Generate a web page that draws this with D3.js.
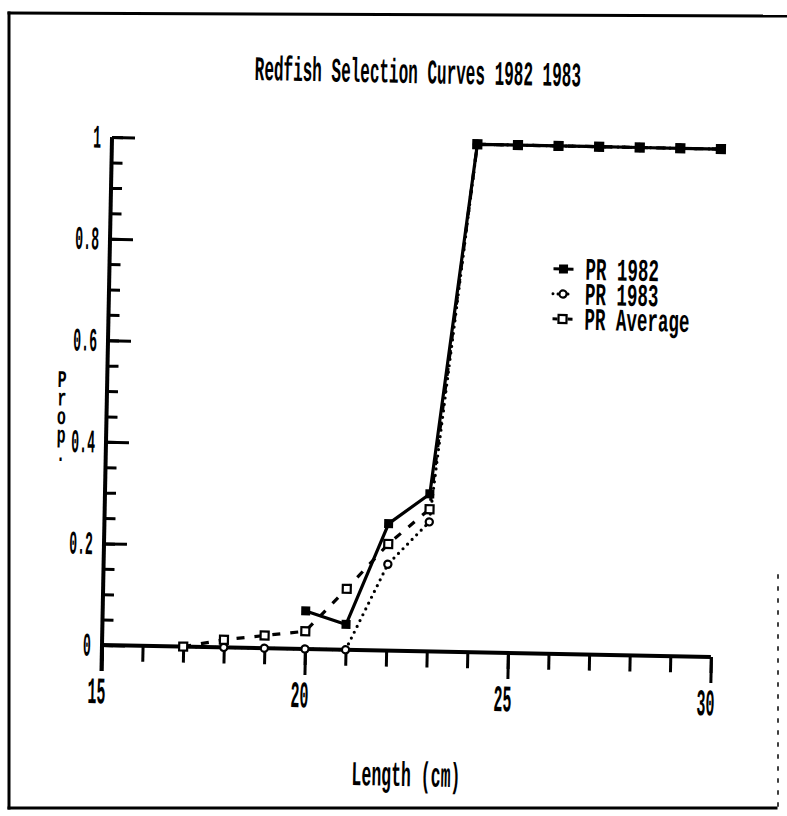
<!DOCTYPE html>
<html>
<head>
<meta charset="utf-8">
<script src="https://cdn.jsdelivr.net/npm/d3@7"></script>
<style>
  html, body { margin: 0; padding: 0; background: #fff; }
  svg { display: block; }
  text { font-family: "Liberation Mono", "DejaVu Sans Mono", monospace; fill: #000; }
</style>
</head>
<body>
<svg id="chart" width="787" height="816"></svg>
<script>
// Fish length classes (cm) and retained proportion for each selection curve
const lengths   = [17, 18, 19, 20, 21, 22, 23, 24, 25, 26, 27, 28, 29, 30];
const pr1982    = [null, null, null, 0.075, 0.05, 0.25, 0.31, 1, 1, 1, 1, 1, 1, 1];
const pr1983    = [0, 0, 0, 0, 0, 0.17, 0.255, 1, 1, 1, 1, 1, 1, 1];
const prAverage = [0, 0.015, 0.025, 0.035, 0.12, 0.21, 0.28, 1, 1, 1, 1, 1, 1, 1];

const seriesNames = ["PR 1982", "PR 1983", "PR Average"];
const xTickValues = [15, 20, 25, 30];
const yTickValues = [0, 0.2, 0.4, 0.6, 0.8, 1];
const yTickLabels = ["0", "0.2", "0.4", "0.6", "0.8", "1"];
const titleText = "Redfish Selection Curves 1982 1983";
const xTitle = "Length (cm)";
const yTitle = "Prop.";

const svg = d3.select("#chart");
const CAP = 0.659; // cap height of the mono face, in em

// Outer page frame
const frame = svg.append("g").attr("stroke", "#000").attr("fill", "none").attr("stroke-linecap", "square");
frame.append("line").attr("x1", 9).attr("y1", 13).attr("x2", 787).attr("y2", 16).attr("stroke-width", 3);
frame.append("line").attr("x1", 9).attr("y1", 13).attr("x2", 9).attr("y2", 808).attr("stroke-width", 3);
frame.append("line").attr("x1", 9).attr("y1", 808).attr("x2", 776).attr("y2", 808).attr("stroke-width", 3);
frame.append("line").attr("x1", 778).attr("y1", 575).attr("x2", 778).attr("y2", 808)
  .attr("stroke-width", 1.5).attr("stroke-dasharray", "3,9");

// Plot area, tilted slightly as printed on the page
const x = d3.scaleLinear().domain([15, 30]).range([102, 711]);
const y = d3.scaleLinear().domain([0, 1]).range([645, 137]);
const g = svg.append("g").attr("transform", `rotate(1.13, ${x(15)}, ${y(0)})`);

// Tall, condensed text helper
function tallText(parent, str, px, py, size, sy, anchor, weight, sx) {
  return parent.append("g")
    .attr("transform", `translate(${px},${py}) scale(${sx || 1},${sy})`)
    .append("text")
    .attr("text-anchor", anchor || "middle")
    .attr("font-size", size)
    .attr("font-weight", weight || "bold")
    .text(str);
}

// Title
tallText(g, titleText, (x(15) + x(30)) / 2, 77, 16, 2.15, "middle", "600");

// X axis: minor ticks every cm, major ticks every 5 cm
const xMinor = d3.axisBottom(x).tickValues(d3.range(15, 31)).tickSize(16).tickFormat("").tickSizeOuter(0);
const xMajor = d3.axisBottom(x).tickValues(xTickValues).tickSize(26).tickSizeOuter(0).tickFormat(d3.format("d"));
const gxMinor = g.append("g").attr("transform", `translate(0,${y(0)})`).call(xMinor);
const gxMajor = g.append("g").attr("transform", `translate(0,${y(0)})`).call(xMajor);
[gxMinor, gxMajor].forEach(a => {
  a.select(".domain").remove();
  a.selectAll(".tick line").attr("stroke", "#000").attr("stroke-width", 3);
});
gxMajor.selectAll(".tick text")
  .attr("y", 0).attr("dy", null)
  .attr("font-size", 15).attr("font-weight", "bold")
  .attr("font-family", "Liberation Mono, monospace")
  .attr("transform", `translate(-5,${46 + 15 * CAP * 2.5 / 2}) scale(1,2.5)`);

// Y axis: ticks point inward, minor every 0.05
const yMinor = d3.axisRight(y).tickValues(d3.range(0, 1.0001, 0.05)).tickSize(11).tickFormat("").tickSizeOuter(0);
const yMajor = d3.axisRight(y).tickValues(yTickValues).tickSize(23).tickFormat("").tickSizeOuter(0);
const gyMinor = g.append("g").attr("transform", `translate(${x(15)},0)`).call(yMinor);
const gyMajor = g.append("g").attr("transform", `translate(${x(15)},0)`).call(yMajor);
[gyMinor, gyMajor].forEach(a => {
  a.select(".domain").remove();
  a.selectAll(".tick line").attr("stroke", "#000").attr("stroke-width", 3);
});
yTickValues.forEach((v, i) => {
  tallText(g, yTickLabels[i], x(15) - 11, y(v) + 15 * CAP * 2.2 / 2, 15, 2.2, "end", "bold", 0.88);
});

// Axis lines
g.append("line").attr("x1", x(15)).attr("x2", x(30)).attr("y1", y(0)).attr("y2", y(0))
  .attr("stroke", "#000").attr("stroke-width", 4);
g.append("line").attr("x1", x(15)).attr("x2", x(15)).attr("y1", y(1)).attr("y2", y(0) + 26)
  .attr("stroke", "#000").attr("stroke-width", 4);

// Axis titles
tallText(g, xTitle, (x(15) + x(30)) / 2 + 2, 780, 16.5, 2.1, "middle");
yTitle.split("").forEach((ch, i) => {
  tallText(g, ch, 57, 388 + i * 18.5, 15, 1.6, "middle");
});

// Curves
const rows = lengths.map((l, i) => ({ l, a: pr1982[i], b: pr1983[i], c: prAverage[i] }));
const series = [
  { name: seriesNames[0], key: "a", dash: null, cap: "butt", marker: "filled" },
  { name: seriesNames[1], key: "b", dash: "0,6.5", cap: "round", marker: "circle" },
  { name: seriesNames[2], key: "c", dash: "8,10", cap: "butt", marker: "square" }
];
const drawOrder = [series[1], series[2], series[0]];

drawOrder.forEach(s => {
  const line = d3.line()
    .defined(d => d[s.key] !== null)
    .x(d => x(d.l)).y(d => y(d[s.key]));
  g.append("path").datum(rows)
    .attr("d", line)
    .attr("fill", "none").attr("stroke", "#000").attr("stroke-width", 3.2)
    .attr("stroke-linecap", s.cap)
    .attr("stroke-linejoin", "round")
    .attr("stroke-dasharray", s.dash);
});

function drawMarker(parent, type, cx, cy) {
  if (type === "filled") {
    parent.append("rect").attr("x", cx - 4.5).attr("y", cy - 4.5).attr("width", 9).attr("height", 9)
      .attr("fill", "#000");
  } else if (type === "circle") {
    parent.append("circle").attr("cx", cx).attr("cy", cy).attr("r", 3.6)
      .attr("fill", "#fff").attr("stroke", "#000").attr("stroke-width", 2.2);
  } else {
    parent.append("rect").attr("x", cx - 4).attr("y", cy - 4).attr("width", 8).attr("height", 8)
      .attr("fill", "#fff").attr("stroke", "#000").attr("stroke-width", 2.2);
  }
}

drawOrder.forEach(s => {
  rows.filter(d => d[s.key] !== null).forEach(d => drawMarker(g, s.marker, x(d.l), y(d[s.key])));
});

// Legend
const legend = g.append("g");
series.forEach((s, i) => {
  const cy = 260 + i * 25;
  legend.append("line").attr("x1", 546).attr("x2", 566).attr("y1", cy).attr("y2", cy)
    .attr("stroke", "#000").attr("stroke-width", 3)
    .attr("stroke-linecap", s.cap)
    .attr("stroke-dasharray", s.marker === "circle" ? "0,5" : (s.marker === "square" ? "5,10,5" : null));
  drawMarker(legend, s.marker, 556, cy);
  tallText(legend, s.name, 578, cy + 17.5 * CAP * 1.8 / 2, 17.5, 1.8, "start");
});
</script>
</body>
</html>
